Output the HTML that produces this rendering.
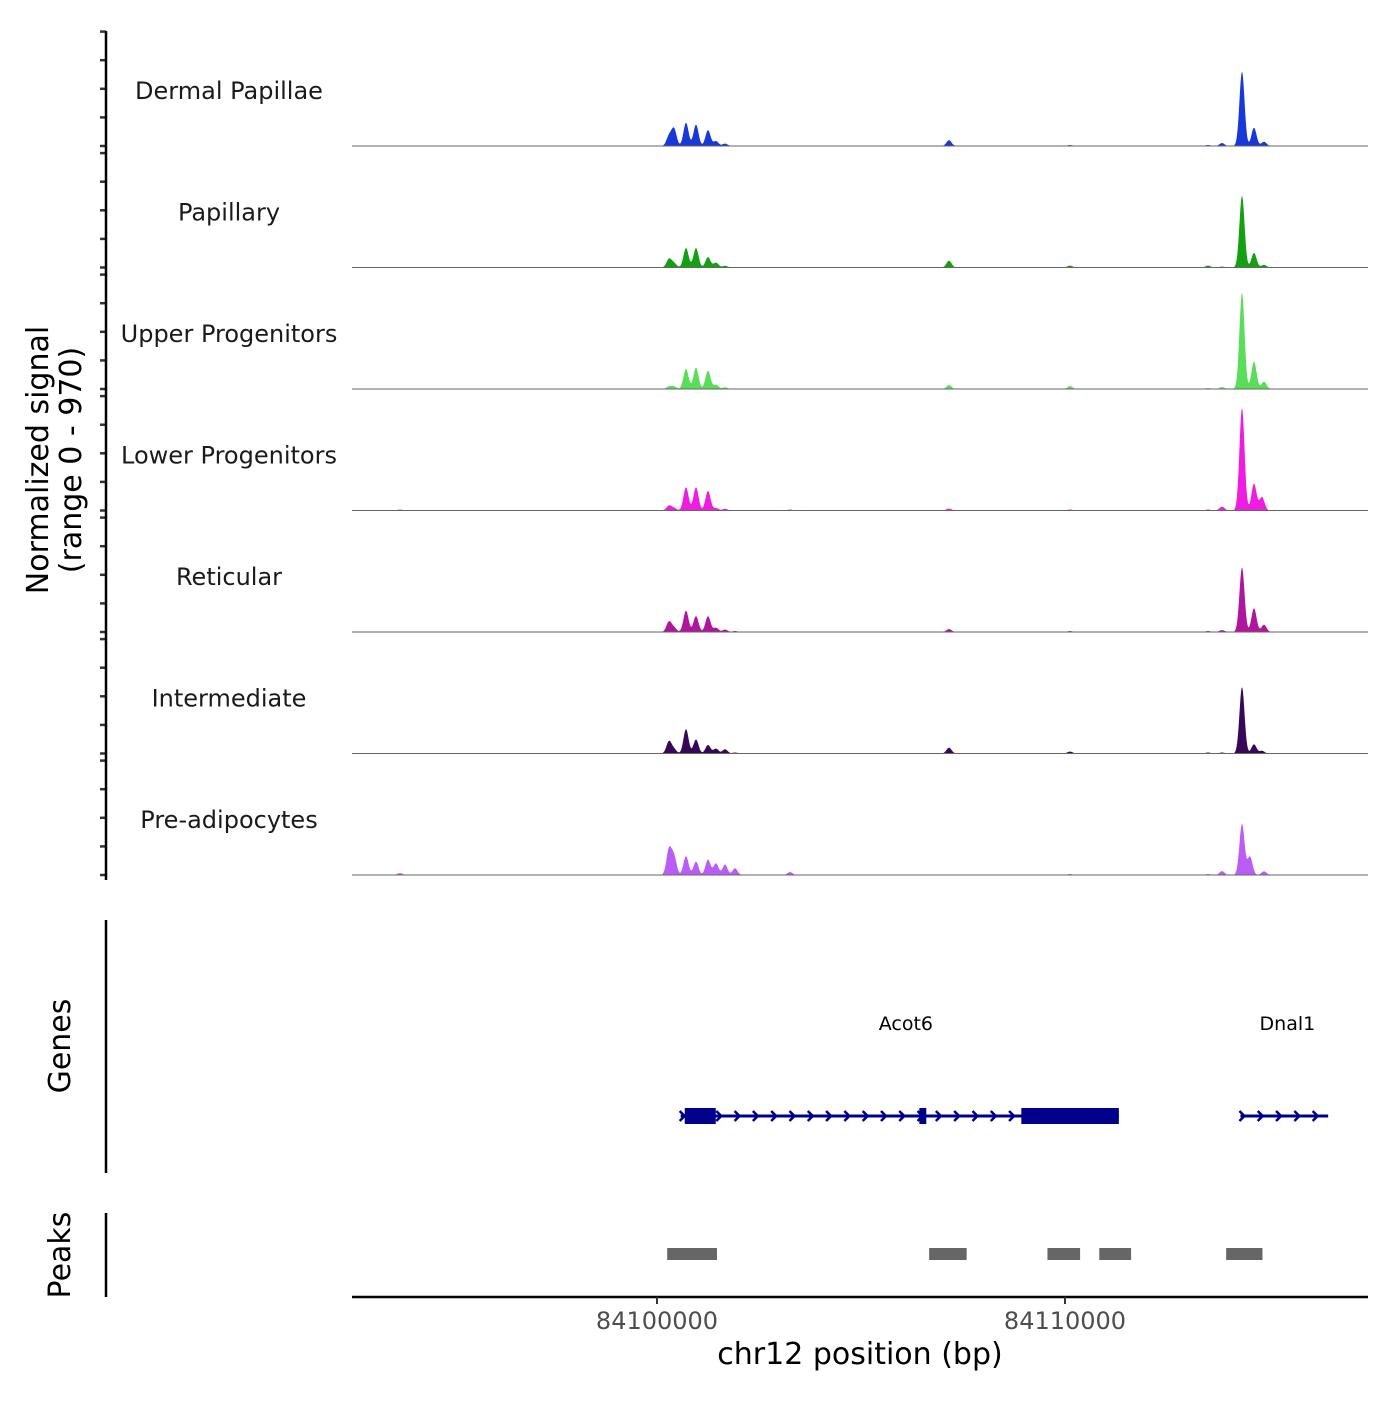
<!DOCTYPE html>
<html><head><meta charset="utf-8"><style>
body{margin:0;background:#fff}
svg text{font-family:"DejaVu Sans","Liberation Sans",sans-serif}
</style></head><body>
<svg id="c" width="1400" height="1400"></svg>
<script>
const trackNames=["Dermal Papillae","Papillary","Upper Progenitors","Lower Progenitors","Reticular","Intermediate","Pre-adipocytes"];
const trackColors=["#1838d8","#13a013","#5ade5a","#ee1ee0","#b0159e","#380858","#ba5cf6"];
const peakPos=[84093701,84100294,84100417,84100711,84100956,84101250,84101446,84101667,84101912,84103260,84107157,84110123,84113505,84113848,84114338,84114534,84114632,84114828,84114877];
const hDP=[0,80,140,190,175,130,40,20,0,0,48,8,8,24,610,0,150,0,35];
const hPap=[0,70,35,160,160,85,40,14,0,0,56,16,16,8,590,0,120,0,22];
const hUp=[0,20,20,165,175,150,35,14,0,0,32,24,8,16,790,0,225,0,60];
const hLow=[8,40,20,190,190,160,20,14,0,8,16,8,8,32,840,0,220,110,0];
const hRet=[0,85,35,175,130,130,35,20,8,0,24,8,8,16,530,0,195,0,60];
const hInt=[0,100,35,200,115,70,40,35,8,0,48,16,8,8,545,0,75,22,0];
const hPre=[16,210,150,155,110,125,95,85,55,24,0,8,8,32,420,150,0,0,30];
const trackValues=[hDP,hPap,hUp,hLow,hRet,hInt,hPre];
const xTicks=[84100000,84110000];
const maxVal=970;
const genes=[{name:"Acot6",start:84100580,end:84111320,exons:[[84100680,84101440],[84106430,84106600],[84108930,84111320]],label:84106100},{name:"Dnal1",start:84114300,end:84116450,exons:[],label:84115450}];
const peaks=[[84100250,84101470],[84106670,84107590],[84109570,84110370],[84110840,84111620],[84113950,84114840]];

const svg=document.getElementById('c');const NS="http://www.w3.org/2000/svg";
function el(t,a,p){const e=document.createElementNS(NS,t);for(const k in a)e.setAttribute(k,a[k]);(p||svg).appendChild(e);return e;}
const X=bp=>657+(bp-84100000)*408/10000;
const trackH=121.5, base0=146;
const yV=(v,b)=>b-Math.min(v,maxVal)/maxVal*118;
for(let i=0;i<7;i++){
  const b=base0+i*trackH;
  const g=el('g',{});
  
  
  let d='M352,'+b;
  for(let px=352;px<=1368;px+=0.5){
    let v=0;const vals=trackValues[i];
    for(let k=0;k<peakPos.length;k++){const dx=(px-X(peakPos[k]))/3.6;v+=vals[k]*Math.exp(-dx*dx);}
    d+=' L'+px+','+yV(v,b).toFixed(1);
  }
  d+=' L1368,'+b+' Z';
  const p=el('path',{d:d,fill:trackColors[i]},g);
  
  el('line',{x1:352,x2:1368,y1:b,y2:b,stroke:'#666','stroke-width':1},g);
  const t=el('text',{x:229,y:b-47,'text-anchor':'middle','font-size':24,fill:'#1a1a1a'},g);t.textContent=trackNames[i];
  
  for(let k=0;k<5;k++)el('line',{x1:100,x2:106,y1:b-k*28.6,y2:b-k*28.6,stroke:'#333','stroke-width':2.5});
}
el('line',{x1:106,x2:106,y1:31,y2:880,stroke:'#000','stroke-width':2.5});
let yt=el('text',{transform:'translate(52,460) rotate(-90)','text-anchor':'middle','font-size':30});

yt.innerHTML='<tspan x="0" dy="-4">Normalized signal</tspan><tspan x="0" dy="33">(range 0 - 970)</tspan>';
// genes
el('line',{x1:106,x2:106,y1:920,y2:1173,stroke:'#000','stroke-width':2.5});
let gl=el('text',{transform:'translate(70,1046) rotate(-90)','text-anchor':'middle','font-size':30});gl.textContent='Genes';

const gc='#00008b';
genes.forEach(gn=>{
  const g=el('g',{});
  const x1=X(gn.start),x2=X(gn.end),y=1116;
  el('line',{x1:x1,x2:x2,y1:y,y2:y,stroke:gc,'stroke-width':3},g);
  for(let x=x1+3;x<=x2;x+=18.3)el('path',{d:`M${x-4},${y-5} L${x+1},${y} L${x-4},${y+5}`,stroke:gc,fill:'none','stroke-width':2.5},g);
  gn.exons.forEach(e=>el('rect',{x:X(e[0]),y:y-8,width:X(e[1])-X(e[0]),height:16,fill:gc},g));
  const t=el('text',{x:X(gn.label),y:1030,'text-anchor':'middle','font-size':19},g);t.textContent=gn.name;
});
// peaks
el('line',{x1:106,x2:106,y1:1213,y2:1297,stroke:'#000','stroke-width':2.5});
let pl=el('text',{transform:'translate(70,1255) rotate(-90)','text-anchor':'middle','font-size':30});pl.textContent='Peaks';

peaks.forEach(p=>{const r=el('rect',{x:X(p[0]),y:1248,width:X(p[1])-X(p[0]),height:12,fill:'#666'});
});
// x axis
el('line',{x1:352,x2:1368,y1:1297,y2:1297,stroke:'#000','stroke-width':2.5});
xTicks.forEach(v=>{el('line',{x1:X(v),x2:X(v),y1:1297,y2:1304,stroke:'#333','stroke-width':2});
const t=el('text',{x:X(v),y:1329,'text-anchor':'middle','font-size':24,fill:'#4d4d4d'});t.textContent=v;
});
let xt=el('text',{x:860,y:1364,'text-anchor':'middle','font-size':30});xt.textContent='chr12 position (bp)';

</script>
</body></html>
